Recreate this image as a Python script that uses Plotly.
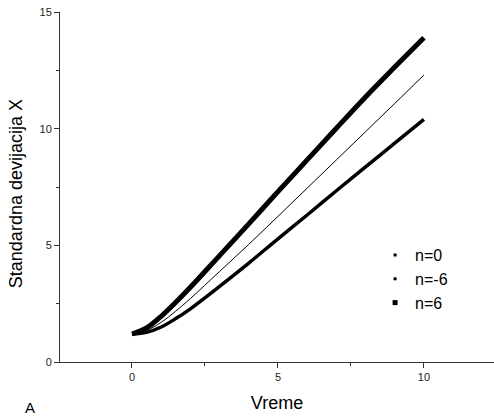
import plotly.graph_objects as go

# Time values (Vreme)
t = [0, 0.5, 1, 1.5, 2, 3, 4, 5, 6, 7, 8, 9, 10]
# Standard deviation readings for each n
sd_n0 = [1.20, 1.35, 1.70, 2.18, 2.72, 3.88, 5.04, 6.24, 7.45, 8.66, 9.87, 11.08, 12.30]
sd_nm6 = [1.20, 1.27, 1.50, 1.86, 2.28, 3.24, 4.24, 5.28, 6.30, 7.34, 8.36, 9.38, 10.40]
sd_n6 = [1.20, 1.46, 1.96, 2.56, 3.20, 4.56, 5.92, 7.30, 8.66, 10.02, 11.36, 12.64, 13.90]

series_names = ["n=0", "n=-6", "n=6"]
series_vals = [sd_n0, sd_nm6, sd_n6]
line_widths = [1, 3.5, 5]
legend_sizes = [3, 3, 5]

fig = go.Figure()
for name, vals, lw in zip(series_names, series_vals, line_widths):
    fig.add_trace(go.Scatter(x=t, y=vals, mode="lines", line=dict(color="black", width=lw, shape="spline"),
                             showlegend=False))
for name, sz in zip(series_names, legend_sizes):
    fig.add_trace(go.Scatter(x=[None], y=[None], mode="markers", name=name,
                             marker=dict(symbol="square", size=sz, color="black")))

axis_common = dict(showline=True, linecolor="#333", linewidth=1, ticks="outside", ticklen=5,
                   tickcolor="#333", showgrid=False, zeroline=False,
                   tickfont=dict(size=11, color="#222"),
                   minor=dict(ticks="outside", ticklen=3, tickcolor="#333", dtick=2.5))

fig.update_xaxes(range=[-2.466, 12.4], tickvals=[0, 5, 10],
                 title=dict(text="Vreme", font=dict(size=18, color="black"), standoff=14), **axis_common)
fig.update_yaxes(range=[0, 15], tickvals=[0, 5, 10, 15], **axis_common)

fig.add_annotation(text="Standardna devijacija X", xref="paper", yref="paper", x=-0.101, y=0.48,
                   textangle=-90, showarrow=False, font=dict(size=18, color="black"),
                   xanchor="center", yanchor="middle")
fig.add_annotation(text="A", xref="paper", yref="paper", x=-0.07, y=-0.16, showarrow=False,
                   font=dict(size=15, color="black"), xanchor="center", yanchor="bottom")

fig.update_layout(
    width=494, height=418,
    margin=dict(l=60, r=0, t=12, b=56),
    plot_bgcolor="white", paper_bgcolor="white",
    font=dict(family="Liberation Sans, Arial, sans-serif", color="black"),
    legend=dict(x=0.726, y=0.354, xanchor="left", yanchor="top", bgcolor="rgba(0,0,0,0)",
                font=dict(size=16), tracegroupgap=0, itemsizing="trace"),
)

fig.write_html("out.html")
